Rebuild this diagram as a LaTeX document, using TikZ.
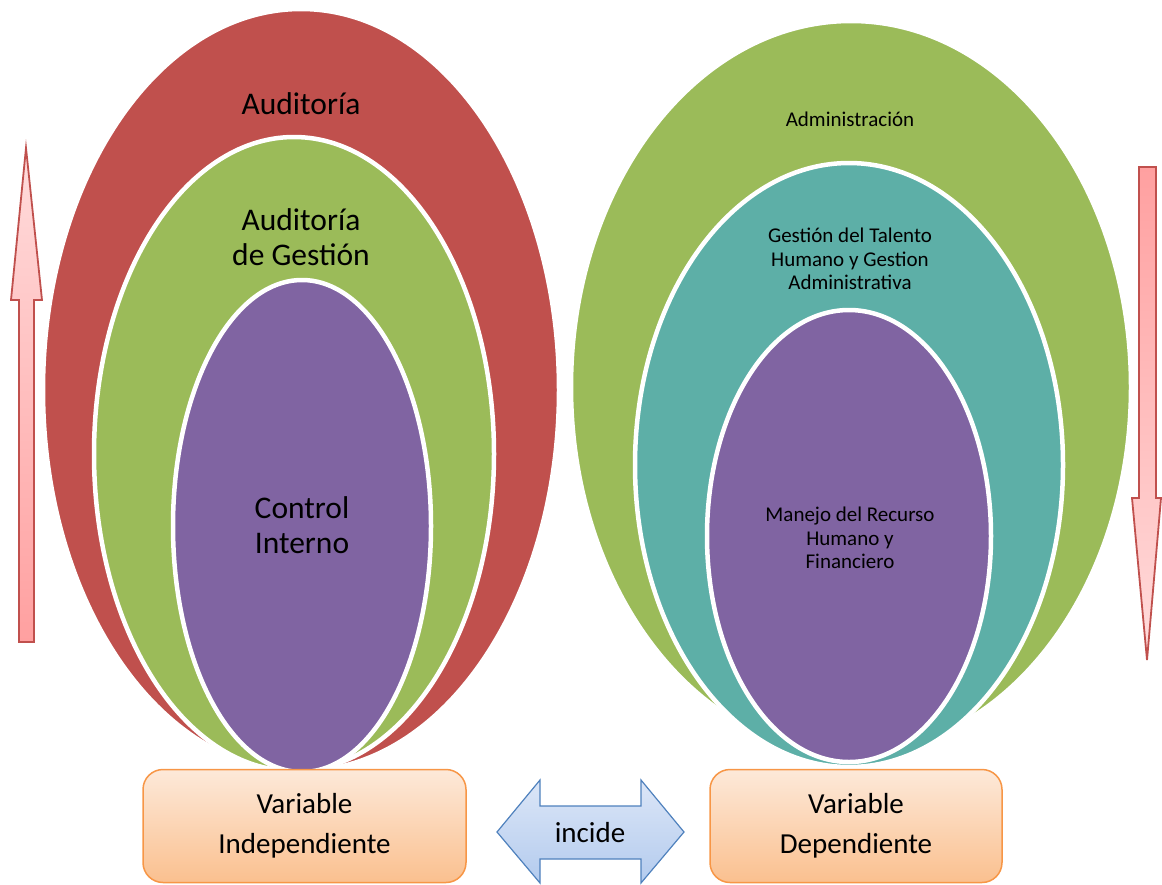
\documentclass[tikz,border=0pt]{standalone}
\usepackage{fontspec}
\setmainfont{Carlito}
\usetikzlibrary{shapes.geometric}
\definecolor{cred}{HTML}{C0504D}
\definecolor{cgreen}{HTML}{9BBB59}
\definecolor{cpurple}{HTML}{8064A2}
\definecolor{cteal}{HTML}{5DAFA7}
\definecolor{boxtop}{HTML}{FDE9D9}
\definecolor{boxbot}{HTML}{FAC08F}
\definecolor{boxline}{HTML}{F79646}
\definecolor{pinkl}{HTML}{FFDCDC}
\definecolor{pinkd}{HTML}{FFA0A0}
\definecolor{bluel}{HTML}{DCE6F7}
\definecolor{blued}{HTML}{B3CBEE}
\definecolor{blueline}{HTML}{4F81BD}
\tikzset{
  ell/.style={ellipse, inner sep=0pt, draw=white, line width=4.5pt},
  bigtxt/.style={font=\fontsize{31.5}{35}\selectfont, align=center},
  smalltxt/.style={font=\fontsize{21}{23.5}\selectfont, align=center},
  vbox/.style={draw=boxline, line width=1.5pt, rounded corners=20pt, top color=boxtop, bottom color=boxbot, minimum width=323pt, minimum height=113pt, font=\fontsize{29}{40}\selectfont, align=center},
  varrow/.style={draw=cred, line width=1.8pt}
}
\begin{document}
\begin{tikzpicture}[x=1pt,y=-1pt]
\useasboundingbox (0,0) rectangle (1162,884);
% left ellipses
\node[ell, fill=cred, minimum width=516pt, minimum height=762pt] (aud) at (301,390) {};
\node[ell, fill=cgreen, minimum width=400pt, minimum height=634pt] (audg) at (294,454) {};
\node[ell, fill=cpurple, minimum width=258pt, minimum height=492pt] (ci) at (302,526) {};
\node[bigtxt] (taud) at (301,104) {Auditoría};
\node[bigtxt] (taudg) at (301,237) {Auditoría\\de Gestión};
\node[bigtxt] (tci) at (302,525) {Control\\Interno};
% right ellipses
\node[ell, fill=cgreen, minimum width=560pt, minimum height=732pt] (adm) at (851,387) {};
\node[ell, fill=cteal, minimum width=428pt, minimum height=604pt] (gth) at (849,465) {};
\node[ell, fill=cpurple, minimum width=284pt, minimum height=452pt] (mrh) at (849,536) {};
\node[smalltxt] (tadm) at (850,119) {Administración};
\node[smalltxt] (tgth) at (850,259) {Gestión del Talento\\Humano y Gestion\\Administrativa};
\node[smalltxt] (tmrh) at (850,538) {Manejo del Recurso\\Humano y\\Financiero};
% boxes
\node[vbox, minimum width=323pt] (vi) at (304.5,826) {Variable\\Independiente};
\node[vbox, minimum width=292pt] (vd) at (856,826) {Variable\\Dependiente};
% double arrow
\path[draw=blueline, line width=1.2pt, top color=bluel, bottom color=blued]
  (497,832) -- (540,780) -- (540,806) -- (641,806) -- (641,780) -- (684,832)
  -- (641,883) -- (641,859) -- (540,859) -- (540,883) -- cycle;
\node[font=\fontsize{29}{34}\selectfont] (inc) at (590,833) {incide};
% vertical arrows
\path[varrow, top color=pinkl, bottom color=pinkd]
  (26,148) -- (42,300) -- (34,300) -- (34,642) -- (19,642) -- (19,300) -- (11,300) -- cycle;
\path[varrow, top color=pinkd, bottom color=pinkl]
  (1139,167) -- (1156,167) -- (1156,498) -- (1161,498) -- (1147,660) -- (1132,498) -- (1139,498) -- cycle;
\end{tikzpicture}
\end{document}
